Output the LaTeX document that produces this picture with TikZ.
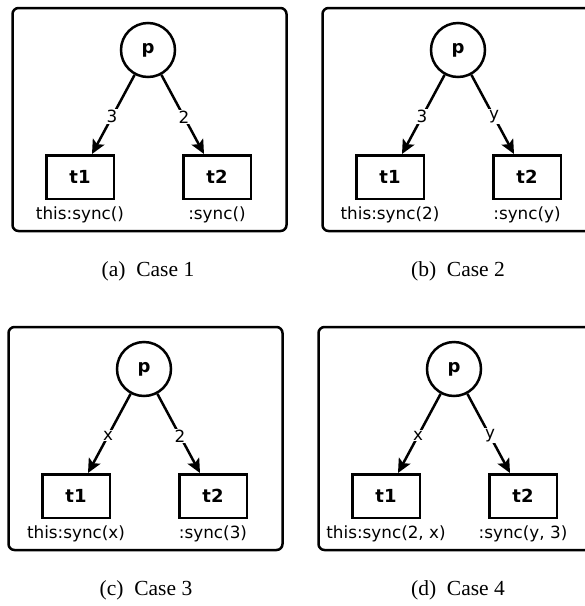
\documentclass[tikz,border=0pt]{standalone}
\usepackage{fontspec}
\newfontfamily\dejavu{DejaVu Sans}
\newfontfamily\capfont{Liberation Serif}
\usetikzlibrary{arrows.meta}
\tikzset{
  pnlbox/.style={line width=2.5pt, rounded corners=6pt},
  place/.style={circle, draw, line width=2.5pt, minimum size=54pt, inner sep=0pt,
    font=\dejavu\bfseries\fontsize{18}{20}\selectfont},
  trans/.style={rectangle, draw, line width=2.5pt, minimum width=67.5pt, minimum height=43.5pt,
    inner sep=0pt, font=\dejavu\bfseries\fontsize{18}{20}\selectfont},
  arc/.style={line width=2.5pt, -{Stealth[length=14pt,width=13pt,inset=3pt]}},
  wlbl/.style={fill=white, inner sep=1pt, font=\dejavu\fontsize{16.8}{20}\selectfont},
  tlbl/.style={inner sep=0pt, anchor=north, font=\dejavu\fontsize{16.8}{20}\selectfont},
  capt/.style={inner sep=0pt, font=\capfont\fontsize{21.5}{24}\selectfont},
}
\newcommand\casepanel[8]{%
  \begin{scope}[shift={(#2)}, name prefix=#1-]
    \draw[pnlbox] (12.5,8) rectangle (286.5,231);
    \node[place] (p) at (148,50) {p};
    \node[trans] (t1) at (80,177) {t1};
    \node[trans] (t2) at (217,177) {t2};
    \draw[arc] (p) -- node[wlbl,pos=0.53] (e1) {#3} ([xshift=12pt]t1.north);
    \draw[arc] (p) -- node[wlbl,pos=0.53] (e2) {#4} ([xshift=-13pt]t2.north);
    \node[tlbl] (l1) at ([yshift=-7pt]t1.south) {#5};
    \node[tlbl] (l2) at ([yshift=-7pt]t2.south) {#6};
    \node[capt] (cp) at (#7,271.5) {#8};
  \end{scope}}
\begin{document}
\begin{tikzpicture}[x=1pt,y=-1pt]
  \useasboundingbox (0,0) rectangle (585,606);
  \clip (0,0) rectangle (585,606);
  \casepanel{a}{0,0}{3}{2}{this:sync()}{:sync()}{148}{(a)\enspace Case 1}
  \casepanel{b}{310,0}{3}{y}{this:sync(2)}{:sync(y)}{148}{(b)\enspace Case 2}
  \casepanel{c}{-4,319}{x}{2}{this:sync(x)}{:sync(3)}{150}{(c)\enspace Case 3}
  \casepanel{d}{306,319}{x}{y}{this:sync(2, x)}{:sync(y, 3)}{152}{(d)\enspace Case 4}
\end{tikzpicture}
\end{document}
